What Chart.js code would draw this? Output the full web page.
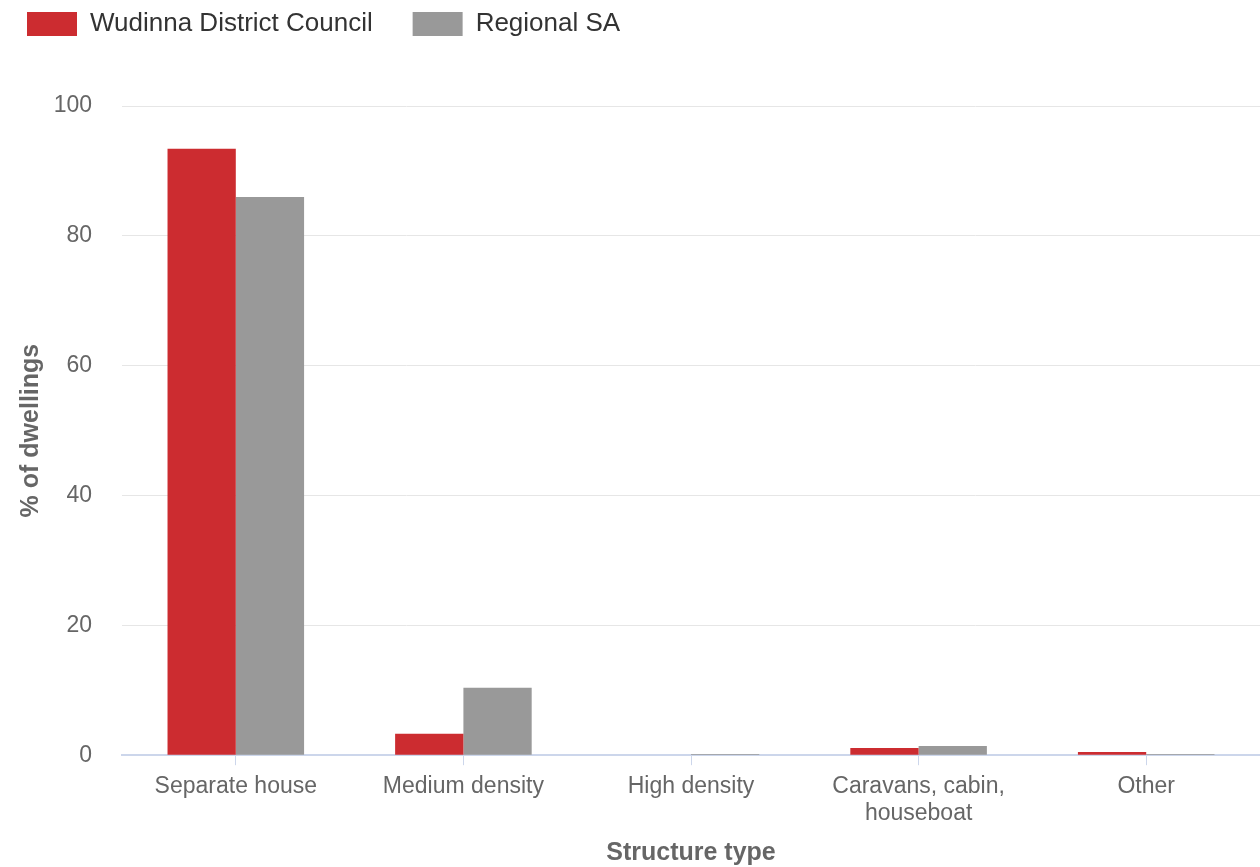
<!DOCTYPE html>
<html>
<head>
<meta charset="utf-8">
<script src="https://cdn.jsdelivr.net/npm/chart.js@4/dist/chart.umd.min.js"></script>
<style>
    html, body { margin: 0; padding: 0; background: #fff; }
    #wrap { width: 1260px; height: 867px; position: relative; }
</style>
</head>
<body>
<div id="wrap"><canvas id="barChart"></canvas></div>
<script>
var categories = ['Separate house', 'Medium density', 'High density', ['Caravans, cabin,', 'houseboat'], 'Other'];
var wudinna = [93.4, 3.3, 0, 1.1, 0.5];
var regionalSA = [86.0, 10.4, 0.2, 1.4, 0.2];
var yTicks = [0, 20, 40, 60, 80, 100];

var fontFamily = '"Liberation Sans", Arial, Helvetica, sans-serif';

// push the plot down below the legend
var legendSpacer = {
    id: 'legendSpacer',
    beforeInit: function(chart) {
        var origFit = chart.legend.fit;
        chart.legend.fit = function() {
            origFit.bind(chart.legend)();
            this.height += 59;
        };
    }
};

new Chart(document.getElementById('barChart').getContext('2d'), {
    type: 'bar',
    data: {
        labels: categories,
        datasets: [
            {
                label: 'Wudinna District Council    ',
                backgroundColor: '#cc2c30',
                borderWidth: 0,
                data: wudinna
            },
            {
                label: 'Regional SA',
                backgroundColor: '#999999',
                borderWidth: 0,
                data: regionalSA
            }
        ]
    },
    plugins: [legendSpacer],
    options: {
        responsive: true,
        maintainAspectRatio: false,
        animation: false,
        devicePixelRatio: 1,
        datasets: {
            bar: { categoryPercentage: 0.6, barPercentage: 1.0 }
        },
        layout: { padding: { left: 16, right: 0, top: 0, bottom: 0 } },
        plugins: {
            tooltip: { enabled: false },
            legend: {
                position: 'top',
                align: 'start',
                labels: {
                    boxWidth: 50,
                    boxHeight: 24,
                    padding: 11,
                    color: '#333333',
                    font: { family: fontFamily, size: 26 }
                }
            }
        },
        scales: {
            x: {
                grid: {
                    display: true,
                    drawOnChartArea: false,
                    offset: false,
                    tickLength: 10,
                    color: '#ccd6eb'
                },
                border: { color: '#ccd6eb', width: 2 },
                ticks: {
                    color: '#666666',
                    maxRotation: 0,
                    autoSkip: false,
                    padding: 8,
                    font: { family: fontFamily, size: 23, lineHeight: 1.17 }
                },
                title: {
                    display: true,
                    text: 'Structure type',
                    color: '#666666',
                    padding: { top: 4, bottom: 0 },
                    font: { family: fontFamily, size: 25, weight: 'bold', lineHeight: 1.12 }
                }
            },
            y: {
                min: 0,
                max: 100,
                afterBuildTicks: function(axis) {
                    axis.ticks = yTicks.map(function(v) { return { value: v }; });
                },
                afterFit: function(axis) {
                    axis.width = 106;
                },
                grid: {
                    color: '#e6e6e6',
                    drawTicks: false
                },
                border: { display: false },
                ticks: {
                    color: '#666666',
                    padding: 30,
                    font: { family: fontFamily, size: 23 }
                },
                title: {
                    display: true,
                    text: '% of dwellings',
                    color: '#666666',
                    padding: { top: 0, bottom: 4 },
                    font: { family: fontFamily, size: 25, weight: 'bold' }
                }
            }
        }
    }
});
</script>
</body>
</html>
